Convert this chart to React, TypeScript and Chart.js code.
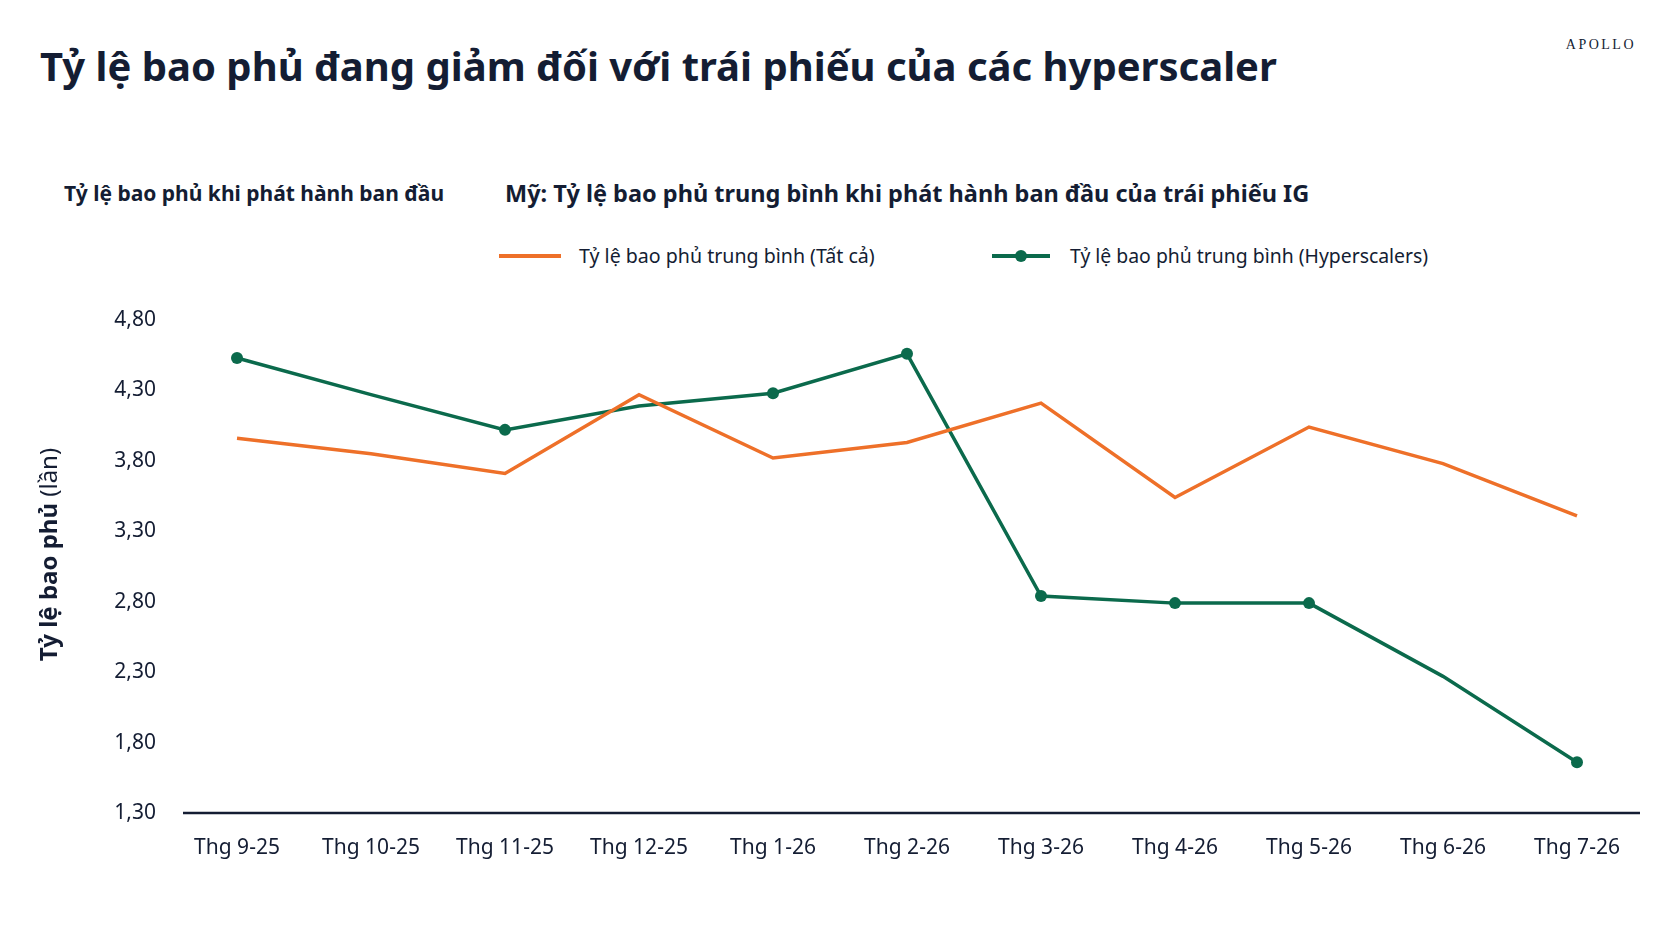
import { useEffect, useRef } from 'react';
import { Chart, registerables, type Plugin } from 'chart.js';

Chart.register(...registerables);

const months = [
  'Thg 9-25', 'Thg 10-25', 'Thg 11-25', 'Thg 12-25', 'Thg 1-26', 'Thg 2-26',
  'Thg 3-26', 'Thg 4-26', 'Thg 5-26', 'Thg 6-26', 'Thg 7-26',
];
const allIssuers = [3.96, 3.85, 3.71, 4.27, 3.82, 3.93, 4.21, 3.54, 4.04, 3.78, 3.41];
const hyperscalers = [4.53, 4.27, 4.02, 4.19, 4.28, 4.56, 2.84, 2.79, 2.79, 2.27, 1.66];
// which hyperscaler months carry a marker in the original
const hyperscalerMarked = [true, false, true, false, true, true, true, true, true, false, true];
const yTicks = [1.3, 1.8, 2.3, 2.8, 3.3, 3.8, 4.3, 4.8];

const NAVY = '#141d33';
const ORANGE = '#ee7029';
const GREEN = '#0b6a4c';
const FONT = "'Noto Sans', sans-serif";

// y title with mixed weights + the baseline, which stops a bit short of the plot edges
const decorPlugin: Plugin<'line'> = {
  id: 'decor',
  afterDraw(chart) {
    const { ctx, chartArea } = chart;
    ctx.save();
    ctx.strokeStyle = NAVY;
    ctx.lineWidth = 2.5;
    ctx.beginPath();
    ctx.moveTo(chartArea.left + 13, chartArea.bottom);
    ctx.lineTo(chartArea.right - 4, chartArea.bottom);
    ctx.stroke();

    const bold = 'Tỷ lệ bao phủ';
    const rest = ' (lần)';
    ctx.translate(50, (chartArea.top + chartArea.bottom) / 2 - 12);
    ctx.rotate(-Math.PI / 2);
    ctx.textBaseline = 'middle';
    ctx.fillStyle = NAVY;
    ctx.font = `700 24px ${FONT}`;
    const wb = ctx.measureText(bold).width;
    ctx.font = `400 24px ${FONT}`;
    const wr = ctx.measureText(rest).width;
    const x0 = -(wb + wr) / 2;
    ctx.font = `700 24px ${FONT}`;
    ctx.fillText(bold, x0, 0);
    ctx.font = `400 24px ${FONT}`;
    ctx.fillText(rest, x0 + wb, 0);
    ctx.restore();
  },
};

function CoverageChart() {
  const canvasRef = useRef<HTMLCanvasElement>(null);

  useEffect(() => {
    if (!canvasRef.current) return;
    const chart = new Chart(canvasRef.current, {
      type: 'line',
      data: {
        labels: months,
        datasets: [
          {
            label: 'Tỷ lệ bao phủ trung bình (Tất cả)',
            data: allIssuers,
            borderColor: ORANGE,
            borderWidth: 3.5,
            pointRadius: 0,
            tension: 0,
          },
          {
            label: 'Tỷ lệ bao phủ trung bình (Hyperscalers)',
            data: hyperscalers,
            borderColor: GREEN,
            backgroundColor: GREEN,
            borderWidth: 3.5,
            pointRadius: hyperscalerMarked.map((m) => (m ? 6 : 0)),
            pointBorderWidth: 0,
            tension: 0,
          },
        ],
      },
      options: {
        responsive: true,
        maintainAspectRatio: false,
        animation: false,
        layout: { padding: { top: 30, right: 28, left: 0, bottom: 0 } },
        scales: {
          x: {
            offset: true,
            grid: { display: false, drawTicks: false },
            border: { display: false },
            afterFit: (scale) => {
              scale.height = 70;
            },
            ticks: {
              color: NAVY,
              padding: 22,
              maxRotation: 0,
              autoSkip: false,
              font: { family: FONT, size: 21 },
            },
          },
          y: {
            min: 1.3,
            max: 4.8,
            grid: { display: false, drawTicks: false },
            border: { display: false },
            afterFit: (scale) => {
              scale.width = 170;
            },
            afterBuildTicks: (scale) => {
              scale.ticks = yTicks.map((v) => ({ value: v }));
            },
            ticks: {
              color: NAVY,
              padding: 14,
              font: { family: FONT, size: 21 },
              callback: (v) => Number(v).toFixed(2).replace('.', ','),
            },
          },
        },
        plugins: {
          legend: { display: false },
          tooltip: { enabled: false },
        },
      },
      plugins: [decorPlugin],
    });
    return () => chart.destroy();
  }, []);

  return (
    <div style={{ position: 'absolute', left: 0, top: 290, width: 1672, height: 593 }}>
      <canvas ref={canvasRef} />
    </div>
  );
}

export default function App() {
  const text = { position: 'absolute' as const, color: NAVY, fontFamily: FONT, whiteSpace: 'nowrap' as const, lineHeight: 1 };
  return (
    <div style={{ position: 'fixed', left: 0, top: 0, width: 1672, height: 941, background: '#ffffff', overflow: 'hidden' }}>
      <div style={{ ...text, left: 40, top: 46, fontSize: 40, fontWeight: 700 }}>
        Tỷ lệ bao phủ đang giảm đối với trái phiếu của các hyperscaler
      </div>
      <div style={{ ...text, right: 36, top: 38, fontSize: 14, fontFamily: "'Liberation Serif', serif", letterSpacing: 2.5 }}>
        APOLLO
      </div>
      <div style={{ ...text, left: 64, top: 183, fontSize: 21, fontWeight: 700 }}>
        Tỷ lệ bao phủ khi phát hành ban đầu
      </div>
      <div style={{ ...text, left: 505, top: 182, fontSize: 23.5, fontWeight: 700 }}>
        Mỹ: Tỷ lệ bao phủ trung bình khi phát hành ban đầu của trái phiếu IG
      </div>
      <div style={{ position: 'absolute', left: 499, top: 254, width: 62, height: 4, background: ORANGE }} />
      <div style={{ ...text, left: 579, top: 246, fontSize: 19.6 }}>Tỷ lệ bao phủ trung bình (Tất cả)</div>
      <div style={{ position: 'absolute', left: 992, top: 254, width: 58, height: 4, background: GREEN }} />
      <div style={{ position: 'absolute', left: 1015, top: 250, width: 12, height: 12, borderRadius: 6, background: GREEN }} />
      <div style={{ ...text, left: 1070, top: 246, fontSize: 19.4 }}>Tỷ lệ bao phủ trung bình (Hyperscalers)</div>
      <CoverageChart />
    </div>
  );
}
